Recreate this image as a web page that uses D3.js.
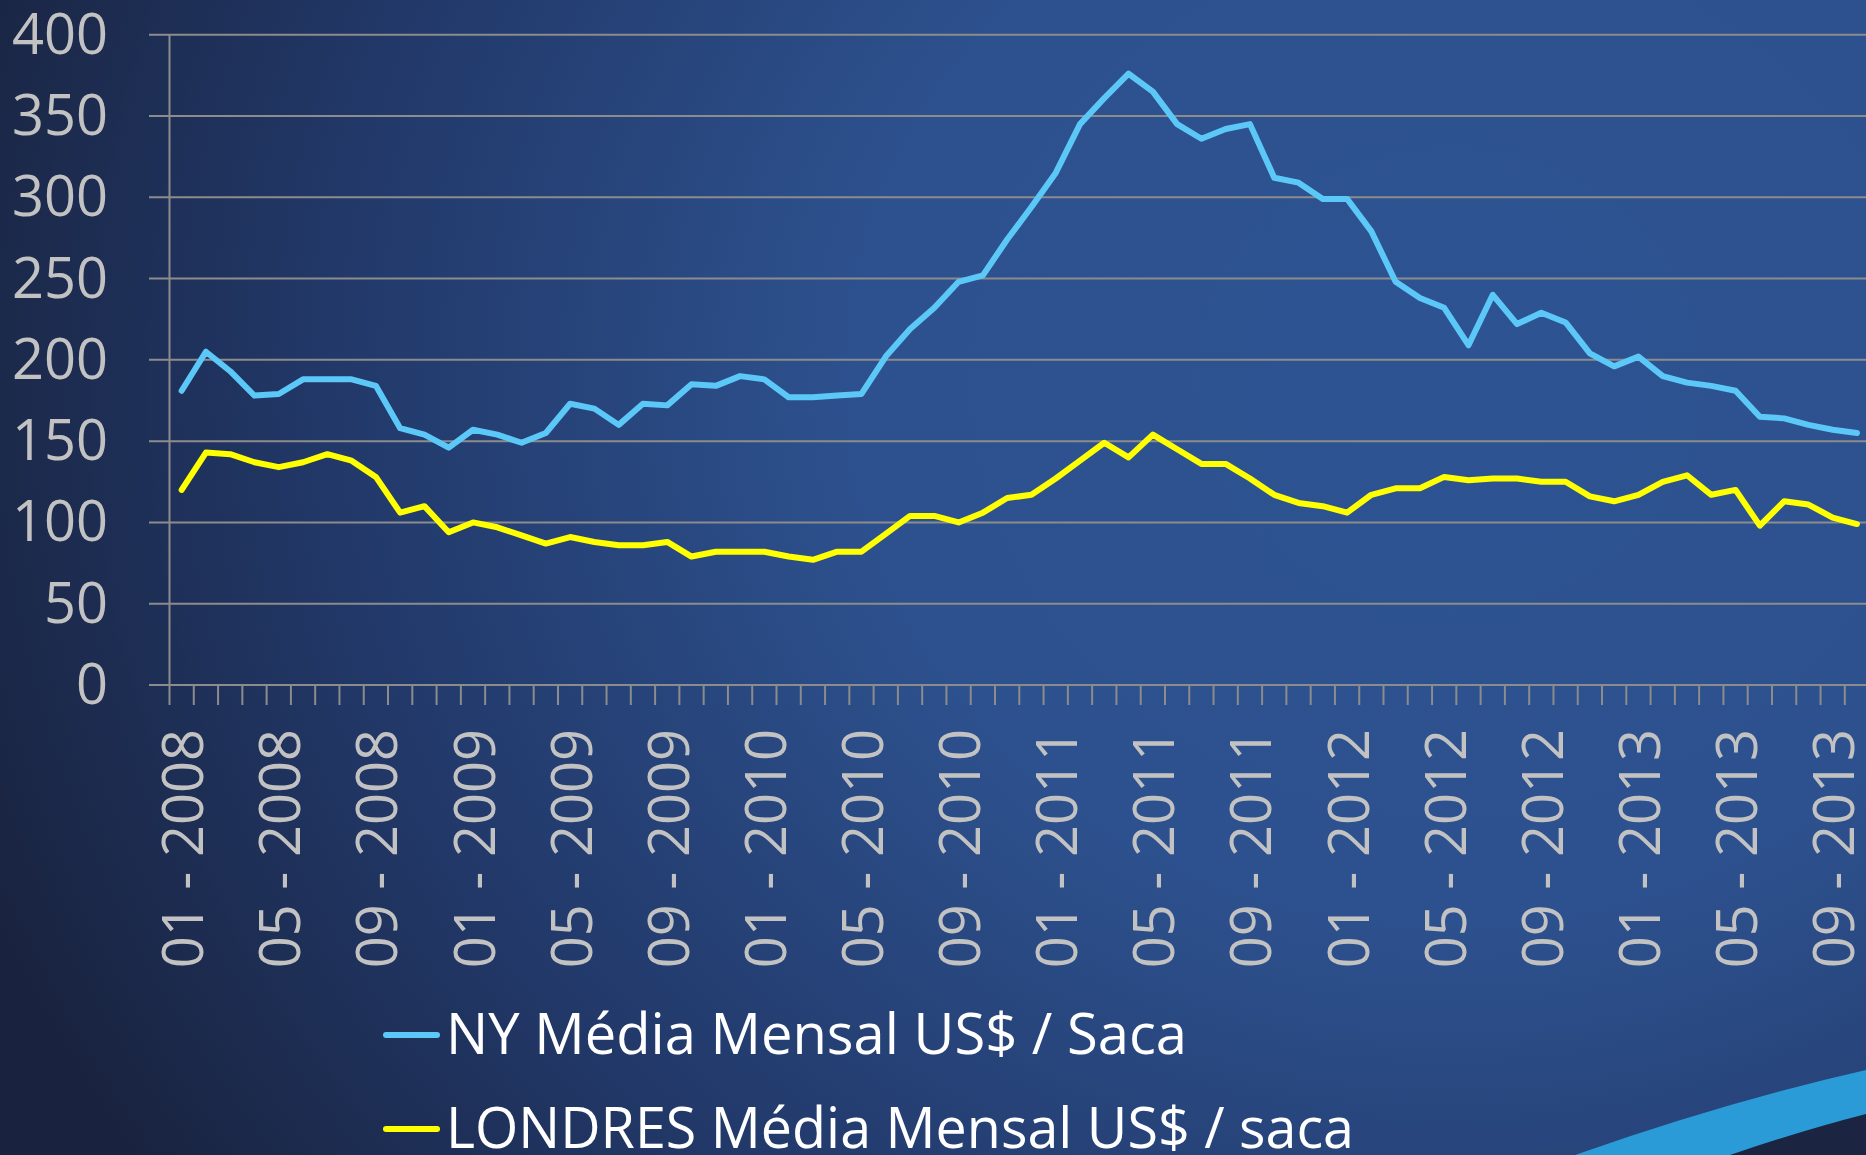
<!DOCTYPE html>
<html>
<head>
<meta charset="utf-8">
<script src="https://cdn.jsdelivr.net/npm/d3@7"></script>
<style>
html,body{margin:0;padding:0;background:#1c2a4a;overflow:hidden;}
svg{display:block;}
</style>
</head>
<body>
<svg id="chart" width="1866" height="1155"></svg>
<script>
const years = ["2008","2009","2010","2011","2012","2013"];
const monthNums = ["01","02","03","04","05","06","07","08","09","10","11","12"];
const categories = [];
years.forEach(y => monthNums.forEach(m => categories.push(m + " - " + y)));
categories.splice(70); // 01 - 2008 .. 10 - 2013

const tickLabels = ["01 - 2008","05 - 2008","09 - 2008","01 - 2009","05 - 2009","09 - 2009",
  "01 - 2010","05 - 2010","09 - 2010","01 - 2011","05 - 2011","09 - 2011",
  "01 - 2012","05 - 2012","09 - 2012","01 - 2013","05 - 2013","09 - 2013"];
const yTicks = [0,50,100,150,200,250,300,350,400];

const nyValues = [
  181,205,193,178,179,188,188,188,184,158,154,146,157,154,149,155,173,170,160,173,
  172,185,184,190,188,177,177,178,179,202,219,232,248,252,274,294,315,345,361,376,
  365,345,336,342,345,312,309,299,299,279,248,238,232,209,240,222,229,223,204,196,
  202,190,186,184,181,165,164,160,157,155
];
const londresValues = [
  120,143,142,137,134,137,142,138,128,106,110,94,100,97,92,87,91,88,86,86,
  88,79,82,82,82,79,77,82,82,93,104,104,100,106,115,117,127,138,149,140,
  154,145,136,136,127,117,112,110,106,117,121,121,128,126,127,127,125,125,116,113,
  117,125,129,117,120,98,113,111,103,99
];
const seriesNames = ["NY Média Mensal US$ / Saca", "LONDRES Média Mensal US$ / saca"];
const seriesColors = ["#5cc8f8", "#ffff00"];

const svg = d3.select("#chart");
const W = 1866, H = 1155;
const defs = svg.append("defs");

// Background
const rg = defs.append("radialGradient").attr("id","bg")
  .attr("gradientUnits","userSpaceOnUse")
  .attr("cx",1450).attr("cy",380).attr("r",1500)
  .attr("gradientTransform","translate(1450,380) scale(1.05,0.95) translate(-1450,-380)");
rg.append("stop").attr("offset",0).attr("stop-color","#2e5392");
rg.append("stop").attr("offset",0.38).attr("stop-color","#2d518e");
rg.append("stop").attr("offset",0.7).attr("stop-color","#22396a");
rg.append("stop").attr("offset",1).attr("stop-color","#19233f");
svg.append("rect").attr("width",W).attr("height",H).attr("fill","url(#bg)");

// Swoosh bottom right
svg.append("path")
  .attr("d","M1575,1155 Q1725,1102 1866,1070 L1866,1155 Z")
  .attr("fill","#2a9bd6");
svg.append("path")
  .attr("d","M1730,1155 Q1800,1131 1866,1114 L1866,1155 Z")
  .attr("fill","#1b2440");

// Scales
const x0 = 169.5, bw = 24.28;
const x = d3.scaleBand().domain(categories).range([x0, x0 + bw*categories.length]).padding(0);
const y = d3.scaleLinear().domain([0,400]).range([685,34.7]);
const xc = d => x(d) + x.bandwidth()/2;

const gridColor = "#8c8c8c";
const labelColor = "#c2c2c2";
const fontFam = "'Open Sans', 'DejaVu Sans', sans-serif";

// Gridlines
svg.append("g").selectAll("line").data(yTicks).join("line")
  .attr("x1",149).attr("x2",W)
  .attr("y1",d=>y(d)).attr("y2",d=>y(d))
  .attr("stroke",gridColor).attr("stroke-width",2);

// vertical axis line
svg.append("line").attr("x1",x0).attr("x2",x0).attr("y1",y(400)).attr("y2",705)
  .attr("stroke",gridColor).attr("stroke-width",2);

// x tick marks at band boundaries
svg.append("g").selectAll("line").data(categories.slice(1)).join("line")
  .attr("x1",d=>x(d)).attr("x2",d=>x(d)).attr("y1",685).attr("y2",705)
  .attr("stroke",gridColor).attr("stroke-width",2);

// y labels
svg.append("g").selectAll("text").data(yTicks).join("text")
  .attr("x",108).attr("y",d=>y(d)+19)
  .attr("text-anchor","end")
  .attr("font-family",fontFam).attr("font-size",56)
  .attr("fill",labelColor)
  .text(d=>d);

// x labels
svg.append("g").selectAll("text").data(tickLabels).join("text")
  .attr("transform",d=>`translate(${xc(d)+21.5},729) rotate(-90)`)
  .attr("text-anchor","end")
  .attr("font-family",fontFam).attr("font-size",56)
  .attr("fill",labelColor)
  .text(d=>d);

// Lines
const line = d3.line().x((d,i)=>xc(categories[i])).y(d=>y(d));
[nyValues, londresValues].forEach((vals,k)=>{
  svg.append("path").datum(vals)
    .attr("d",line)
    .attr("fill","none")
    .attr("stroke",seriesColors[k])
    .attr("stroke-width",6)
    .attr("stroke-linejoin","round")
    .attr("stroke-linecap","round");
});

// Legend
const legY = [1035, 1129];
const legLen = [741, 908];
seriesNames.forEach((name,k)=>{
  svg.append("line").attr("x1",386).attr("x2",437)
    .attr("y1",legY[k]).attr("y2",legY[k])
    .attr("stroke",seriesColors[k]).attr("stroke-width",6).attr("stroke-linecap","round");
  svg.append("text").attr("x",446).attr("y",legY[k]+18.5)
    .attr("font-family",fontFam).attr("font-size",56)
    .attr("fill","#ffffff")
    .attr("textLength",legLen[k]).attr("lengthAdjust","spacingAndGlyphs")
    .text(name);
});
</script>
</body>
</html>
